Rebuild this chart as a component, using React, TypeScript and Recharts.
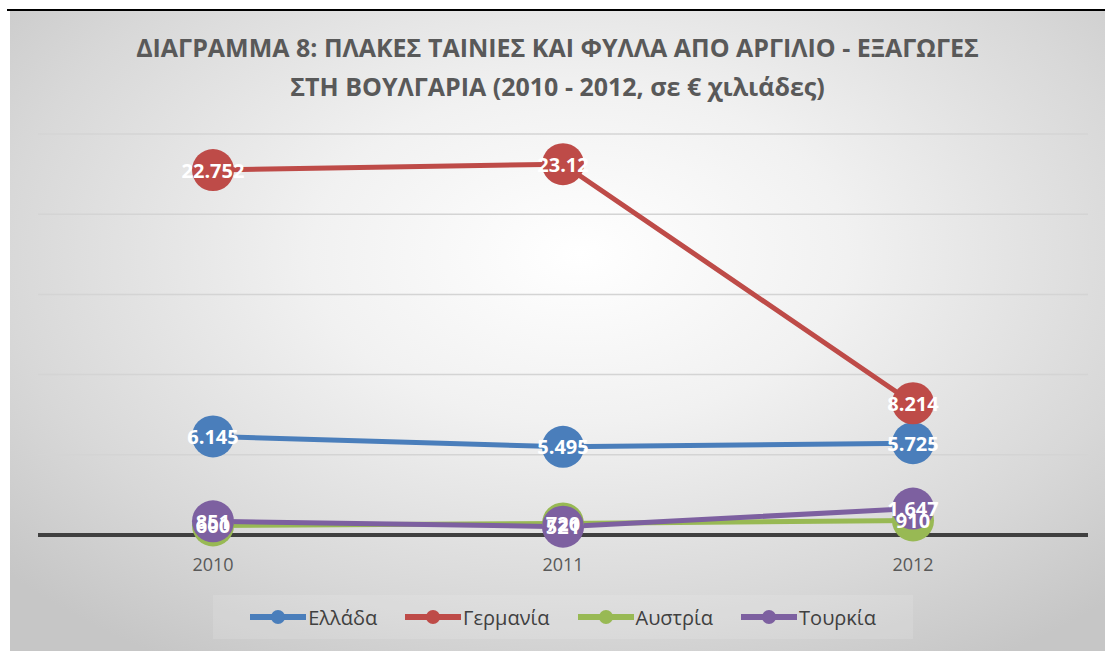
import { LineChart, Line, XAxis, YAxis, CartesianGrid, LabelList } from "recharts";

const years = ["2010", "2011", "2012"];
const greece = [6145, 5495, 5725];
const germany = [22752, 23120, 8214];
const austria = [600, 720, 910];
const turkey = [851, 521, 1647];
const yTicks = [0, 5000, 10000, 15000, 20000, 25000];

const series = [
  { key: "greece", name: "Ελλάδα", color: "#4a7ebb" },
  { key: "germany", name: "Γερμανία", color: "#be4b48" },
  { key: "austria", name: "Αυστρία", color: "#98b954" },
  { key: "turkey", name: "Τουρκία", color: "#7d60a0" },
];

const data = years.map((year, i) => ({
  year,
  greece: greece[i],
  germany: germany[i],
  austria: austria[i],
  turkey: turkey[i],
}));

// excel-style: dot as thousands separator, trailing zeros dropped
const fmt = (v: number) => {
  if (v < 1000) return String(v);
  const frac = String(v % 1000).padStart(3, "0").replace(/0+$/, "");
  return frac ? `${Math.floor(v / 1000)}.${frac}` : String(Math.floor(v / 1000));
};

const font = "'Open Sans', 'DejaVu Sans', sans-serif";

const renderLabel = (props: any) => {
  const { x, y, value } = props;
  return (
    <text
      x={x}
      y={y}
      textAnchor="middle"
      dominantBaseline="central"
      fill="#ffffff"
      fontSize={20}
      fontWeight={700}
      fontFamily={font}
    >
      {fmt(value)}
    </text>
  );
};

export default function App() {
  return (
    <div style={{ position: "absolute", left: 0, top: 0, width: 1105, height: 651, background: "#fff", overflow: "hidden" }}>
      <style>{"body{margin:0}"}</style>
      <div style={{ position: "absolute", left: 7, top: 9, width: 1098, height: 2, background: "#000" }} />
      <div
        style={{
          position: "absolute",
          left: 10,
          top: 11,
          width: 1095,
          height: 640,
          background: "radial-gradient(ellipse 70% 75% at 52% 38%, #ffffff 0%, #f1f1f1 35%, #d8d8d8 75%, #c6c6c6 100%)",
        }}
      >
        <div
          style={{
            position: "absolute",
            left: 0,
            top: 17,
            width: 1095,
            textAlign: "center",
            fontFamily: font,
            fontWeight: 700,
            fontSize: 25,
            lineHeight: "39px",
            color: "#595959",
          }}
        >
          ΔΙΑΓΡΑΜΜΑ 8: ΠΛΑΚΕΣ ΤΑΙΝΙΕΣ ΚΑΙ ΦΥΛΛΑ ΑΠΟ ΑΡΓΙΛΙΟ - ΕΞΑΓΩΓΕΣ
          <br />
          ΣΤΗ ΒΟΥΛΓΑΡΙΑ (2010 - 2012, σε € χιλιάδες)
        </div>
        <LineChart
          width={1095}
          height={640}
          data={data}
          margin={{ top: 123, right: 17, left: 28, bottom: 86 }}
          style={{ position: "absolute", left: 0, top: 0 }}
        >
          <CartesianGrid stroke="#d4d4d4" strokeWidth={1.5} vertical={false} />
          <YAxis hide domain={[0, 25000]} ticks={yTicks} />
          <XAxis
            dataKey="year"
            padding={{ left: 175, right: 175 }}
            axisLine={{ stroke: "#404040", strokeWidth: 4 }}
            tickLine={false}
            tickMargin={17}
            height={30}
            tick={{ fontSize: 18, fill: "#595959", fontFamily: font }}
          />
          {series.map((s) => (
            <Line
              key={s.key}
              dataKey={s.key}
              name={s.name}
              stroke={s.color}
              strokeWidth={5}
              dot={{ r: 21, fill: s.color, stroke: s.color, strokeWidth: 0 }}
              activeDot={false}
              isAnimationActive={false}
            >
              <LabelList dataKey={s.key} content={renderLabel} />
            </Line>
          ))}
        </LineChart>
        <div
          style={{
            position: "absolute",
            left: 203,
            top: 584,
            width: 700,
            height: 44,
            background: "rgba(255,255,255,0.12)",
            display: "flex",
            alignItems: "center",
            justifyContent: "center",
            gap: 28,
            fontFamily: font,
            fontSize: 20,
            color: "#404040",
          }}
        >
          {series.map((s) => (
            <div key={s.key} style={{ display: "flex", alignItems: "center" }}>
              <svg width={56} height={16} style={{ marginRight: 2 }}>
                <line x1={0} y1={8} x2={56} y2={8} stroke={s.color} strokeWidth={6} strokeLinecap="round" />
                <circle cx={28} cy={8} r={7} fill={s.color} />
              </svg>
              <span>{s.name}</span>
            </div>
          ))}
        </div>
      </div>
    </div>
  );
}
